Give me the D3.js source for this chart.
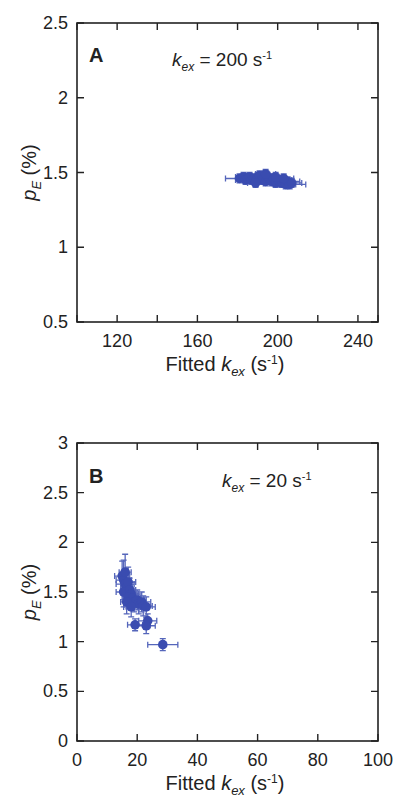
<html>
<head>
<script src="https://d3js.org/d3.v7.min.js"></script>
<style>
  body { margin: 0; background: #fff; }
  svg { font-family: "Liberation Sans", Arial, sans-serif; }
</style>
</head>
<body>
<div id="chart"></div>
<script>
// panel A: true kex = 200 s-1
var kexA = [181, 183, 184, 185, 186, 187, 188, 189, 190, 191, 192, 193, 194, 195, 196, 197, 198, 199, 200, 201, 202, 203, 204, 205, 206, 207, 189, 194, 199, 203];
var peA  = [1.46, 1.47, 1.45, 1.46, 1.47, 1.45, 1.46, 1.44, 1.47, 1.48, 1.45, 1.46, 1.44, 1.47, 1.45, 1.44, 1.46, 1.43, 1.45, 1.44, 1.43, 1.45, 1.42, 1.44, 1.42, 1.43, 1.43, 1.49, 1.47, 1.46];
var exA  = [7, 4, 5, 4, 5, 4, 5, 4, 6, 4, 5, 4, 5, 4, 5, 4, 5, 5, 4, 5, 5, 4, 5, 6, 8, 5, 4, 5, 4, 5];
var eyA  = [0.03, 0.03, 0.03, 0.03, 0.03, 0.03, 0.03, 0.03, 0.03, 0.03, 0.03, 0.03, 0.03, 0.03, 0.03, 0.03, 0.03, 0.03, 0.03, 0.03, 0.03, 0.03, 0.03, 0.03, 0.03, 0.03, 0.03, 0.03, 0.03, 0.03];

// panel B: true kex = 20 s-1
var kexB = [15, 15.5, 16, 16, 16.5, 17, 15.5, 17.5, 18, 17, 18.5, 19, 20, 20.5, 21.5, 22, 23, 16.5, 18, 19.3, 23.5, 23, 28.5];
var peB  = [1.66, 1.62, 1.70, 1.58, 1.55, 1.60, 1.50, 1.52, 1.48, 1.45, 1.44, 1.40, 1.42, 1.38, 1.40, 1.36, 1.35, 1.40, 1.35, 1.17, 1.21, 1.16, 0.97];
var exB  = [2.5, 2.5, 2, 3, 2, 2.5, 2.5, 2, 2.5, 2, 2.5, 2.5, 2.5, 2.5, 3, 3, 3, 2, 2.5, 2.5, 3, 3, 5];
var eyB  = [0.15, 0.2, 0.18, 0.15, 0.12, 0.15, 0.15, 0.12, 0.12, 0.12, 0.1, 0.1, 0.1, 0.1, 0.1, 0.1, 0.1, 0.12, 0.1, 0.06, 0.07, 0.08, 0.06];

var xTicksA = [100, 120, 140, 160, 180, 200, 220, 240, 250];
var xLabelsA = [120, 160, 200, 240];
var yTicksA = [0.5, 1, 1.5, 2, 2.5];
var xTicksB = [0, 20, 40, 60, 80, 100];
var yTicksB = [0, 0.5, 1, 1.5, 2, 2.5, 3];

var blue = "#3a4cb0";
var ink = "#222";

var svg = d3.select("#chart").append("svg")
  .attr("width", 399)
  .attr("height", 799);

function subText(sel, parts) {
  parts.forEach(function(p) {
    var t = sel.append("tspan").text(p.t);
    if (p.italic) t.attr("font-style", "italic");
    if (p.size) t.attr("font-size", p.size);
    if (p.dy) t.attr("dy", p.dy);
  });
}

function panel(o) {
  var x = d3.scaleLinear().domain(o.xdom).range([77, 378]);
  var y = d3.scaleLinear().domain(o.ydom).range([o.bottom, o.top]);
  var g = svg.append("g");

  // ticks on all four sides, pointing in
  var tl = 7;
  g.selectAll(".xt").data(o.xticks).enter().append("path")
    .attr("d", function(d) {
      return "M" + x(d) + "," + o.bottom + "v" + (-tl) + "M" + x(d) + "," + o.top + "v" + tl;
    })
    .attr("stroke", ink).attr("stroke-width", 1.4);
  g.selectAll(".yt").data(o.yticks).enter().append("path")
    .attr("d", function(d) {
      return "M77," + y(d) + "h" + tl + "M378," + y(d) + "h" + (-tl);
    })
    .attr("stroke", ink).attr("stroke-width", 1.4);

  g.append("rect")
    .attr("x", 77).attr("y", o.top)
    .attr("width", 301).attr("height", o.bottom - o.top)
    .attr("fill", "none").attr("stroke", ink).attr("stroke-width", 1.6);

  g.selectAll(".xl").data(o.xlabels).enter().append("text")
    .attr("x", function(d) { return x(d); })
    .attr("y", o.bottom + 25)
    .attr("text-anchor", "middle")
    .attr("font-size", 18).attr("fill", ink)
    .text(function(d) { return d; });
  g.selectAll(".yl").data(o.yticks).enter().append("text")
    .attr("x", 68)
    .attr("y", function(d) { return y(d) + 6; })
    .attr("text-anchor", "end")
    .attr("font-size", 18).attr("fill", ink)
    .text(function(d) { return d; });

  // axis titles
  var xt = g.append("text")
    .attr("x", 225).attr("y", o.bottom + 49)
    .attr("text-anchor", "middle")
    .attr("font-size", 20).attr("fill", ink);
  subText(xt, [{t: "Fitted "}, {t: "k", italic: true}, {t: "ex", italic: true, size: 13, dy: 5},
               {t: " (s", dy: -5}, {t: "-1", size: 12, dy: -7}, {t: ")", dy: 7}]);

  var cy = (o.top + o.bottom) / 2;
  var yt = g.append("text")
    .attr("transform", "translate(36," + cy + ") rotate(-90)")
    .attr("text-anchor", "middle")
    .attr("font-size", 20).attr("fill", ink);
  subText(yt, [{t: "p", italic: true}, {t: "E", italic: true, size: 13, dy: 5}, {t: " (%)", dy: -5}]);

  g.append("text")
    .attr("x", 89).attr("y", o.top + o.letterDy)
    .attr("font-size", 20).attr("font-weight", "bold").attr("fill", ink)
    .text(o.letter);

  var an = g.append("text")
    .attr("x", o.annX).attr("y", o.top + o.annDy)
    .attr("font-size", 19).attr("fill", ink);
  subText(an, [{t: "k", italic: true}, {t: "ex", italic: true, size: 12, dy: 5},
               {t: " = " + o.kTrue + " s", dy: -5}, {t: "-1", size: 11, dy: -7}]);

  // data with error bars
  var pts = o.kx.map(function(d, i) { return {x: d, y: o.pe[i], ex: o.ex[i], ey: o.ey[i]}; });
  var cap = 3;
  var eb = g.append("g").attr("stroke", "#5566bb").attr("stroke-width", 1.3).attr("fill", "none");
  eb.selectAll("path").data(pts).enter().append("path")
    .attr("d", function(d) {
      var px = x(d.x), py = y(d.y);
      var x0 = x(d.x - d.ex), x1 = x(d.x + d.ex);
      var y0 = y(d.y - d.ey), y1 = y(d.y + d.ey);
      return "M" + x0 + "," + py + "H" + x1 +
        "M" + x0 + "," + (py - cap) + "v" + (2 * cap) +
        "M" + x1 + "," + (py - cap) + "v" + (2 * cap) +
        "M" + px + "," + y0 + "V" + y1 +
        "M" + (px - cap) + "," + y0 + "h" + (2 * cap) +
        "M" + (px - cap) + "," + y1 + "h" + (2 * cap);
    });
  g.append("g").selectAll("circle").data(pts).enter().append("circle")
    .attr("cx", function(d) { return x(d.x); })
    .attr("cy", function(d) { return y(d.y); })
    .attr("r", 4.8)
    .attr("fill", blue);
}

panel({top: 23, bottom: 322, xdom: [100, 250], ydom: [0.5, 2.5],
  xticks: xTicksA, xlabels: xLabelsA, yticks: yTicksA,
  kx: kexA, pe: peA, ex: exA, ey: eyA,
  letter: "A", letterDy: 39, annX: 172, annDy: 43, kTrue: 200});

panel({top: 443, bottom: 741, xdom: [0, 100], ydom: [0, 3],
  xticks: xTicksB, xlabels: xTicksB, yticks: yTicksB,
  kx: kexB, pe: peB, ex: exB, ey: eyB,
  letter: "B", letterDy: 40, annX: 222, annDy: 44, kTrue: 20});
</script>
</body>
</html>
